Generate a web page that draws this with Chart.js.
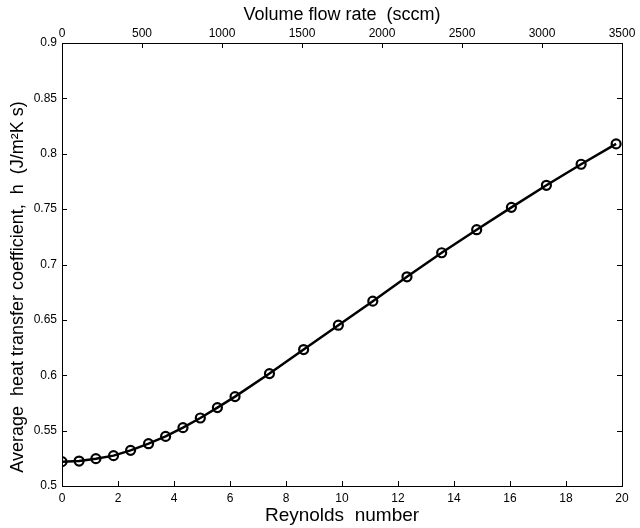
<!DOCTYPE html>
<html>
<head>
<meta charset="utf-8">
<script src="https://cdn.jsdelivr.net/npm/chart.js@4/dist/chart.umd.min.js"></script>
<style>
  html, body { margin: 0; padding: 0; background: #fff; }
  canvas { display: block; }
</style>
</head>
<body>
<canvas id="hChart" width="640" height="528"></canvas>
<script>
// --- DATA ---
const reynolds = [0, 0.61, 1.21, 1.84, 2.45, 3.09, 3.70, 4.32, 4.94, 5.55, 6.18,
                  7.41, 8.63, 9.87, 11.1, 12.32, 13.56, 14.81, 16.05, 17.3, 18.54, 19.79];
const heatCoeff = [0.522, 0.5225, 0.5247, 0.5274, 0.5322, 0.5382, 0.5448, 0.5527, 0.5614, 0.5708, 0.5807,
                   0.6015, 0.6232, 0.6452, 0.6669, 0.6889, 0.7106, 0.7314, 0.7516, 0.7715, 0.7905, 0.8089];
const reTicks = [0, 2, 4, 6, 8, 10, 12, 14, 16, 18, 20];
const flowTicks = [0, 500, 1000, 1500, 2000, 2500, 3000, 3500];
const hTicks = [0.5, 0.55, 0.6, 0.65, 0.7, 0.75, 0.8, 0.85, 0.9];

const FONT = '"Liberation Sans", Arial, Helvetica, sans-serif';

// box + inward tick marks, MATLAB style
const frameTicks = {
    id: 'frameTicks',
    beforeDatasetsDraw(chart) {
        const { ctx, chartArea: a, scales } = chart;
        const len = 5;
        ctx.save();
        ctx.strokeStyle = '#000';
        ctx.lineWidth = 1;
        ctx.strokeRect(a.left + 0.5, a.top + 0.5, a.right - a.left, a.bottom - a.top);
        ctx.beginPath();
        reTicks.forEach(v => {
            const px = Math.round(scales.x.getPixelForValue(v)) + 0.5;
            ctx.moveTo(px, a.bottom); ctx.lineTo(px, a.bottom - len);
        });
        flowTicks.forEach(v => {
            const px = Math.round(scales.x2.getPixelForValue(v)) + 0.5;
            ctx.moveTo(px, a.top); ctx.lineTo(px, a.top + len);
        });
        hTicks.forEach(v => {
            const py = Math.round(scales.y.getPixelForValue(v)) + 0.5;
            ctx.moveTo(a.left, py); ctx.lineTo(a.left + len, py);
            ctx.moveTo(a.right, py); ctx.lineTo(a.right - len, py);
        });
        ctx.stroke();
        ctx.restore();
    }
};

new Chart(document.getElementById('hChart'), {
    type: 'line',
    data: {
        datasets: [{
            data: reynolds.map((r, i) => ({ x: r, y: heatCoeff[i] })),
            borderColor: '#000',
            borderWidth: 2.5,
            backgroundColor: 'rgba(0,0,0,0)',
            pointRadius: 4.5,
            pointBorderWidth: 2.2,
            pointBorderColor: '#000',
            pointBackgroundColor: 'rgba(0,0,0,0)',
            tension: 0,
            xAxisID: 'x',
            yAxisID: 'y'
        }]
    },
    options: {
        responsive: false,
        animation: false,
        layout: { padding: { right: 18 } },
        plugins: { legend: { display: false }, tooltip: { enabled: false } },
        scales: {
            x: {
                type: 'linear', position: 'bottom', min: 0, max: 20,
                afterBuildTicks: s => { s.ticks = reTicks.map(v => ({ value: v })); },
                afterFit: s => { s.height = 42; },
                grid: { display: false, drawTicks: false },
                border: { display: false },
                ticks: { color: '#000', padding: 5, maxRotation: 0, autoSkip: false,
                         font: { family: FONT, size: 12 }, callback: v => String(v) },
                title: { display: true, text: 'Reynolds  number', color: '#000',
                         font: { family: FONT, size: 19 }, padding: { top: 0, bottom: 1 } }
            },
            x2: {
                type: 'linear', position: 'top', min: 0, max: 3500,
                afterBuildTicks: s => { s.ticks = flowTicks.map(v => ({ value: v })); },
                afterFit: s => { s.height = 43; },
                grid: { display: false, drawTicks: false },
                border: { display: false },
                ticks: { color: '#000', padding: 2, maxRotation: 0, autoSkip: false,
                         font: { family: FONT, size: 12 }, callback: v => String(v) },
                title: { display: true, text: 'Volume flow rate  (sccm)', color: '#000',
                         font: { family: FONT, size: 18 }, padding: { top: 4, bottom: 0 } }
            },
            y: {
                type: 'linear', position: 'left', min: 0.5, max: 0.9,
                afterBuildTicks: s => { s.ticks = hTicks.map(v => ({ value: v })); },
                afterFit: s => { s.width = 62; },
                grid: { display: false, drawTicks: false },
                border: { display: false },
                ticks: { color: '#000', padding: 5, font: { family: FONT, size: 12 },
                         callback: v => String(+v.toFixed(2)) },
                // trailing spaces nudge the centred title down, as in the original
                title: { display: true,
                         text: 'Average  heat transfer coefficient,  h  (J/m\u00B2K s)' + '\u00A0'.repeat(9),
                         color: '#000', font: { family: FONT, size: 18 }, padding: { top: 7, bottom: 0 } }
            }
        }
    },
    plugins: [frameTicks]
});
</script>
</body>
</html>
